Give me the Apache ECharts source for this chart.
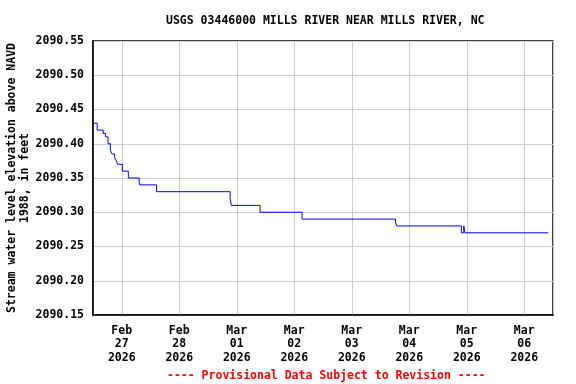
<!DOCTYPE html>
<html>
<head>
<meta charset="utf-8">
<script src="https://cdn.jsdelivr.net/npm/echarts@6/dist/echarts.min.js"></script>
<style>
html,body{margin:0;padding:0;background:#fff;}
#chart{width:576px;height:384px;}
</style>
</head>
<body>
<div id="chart"></div>
<script>
// Chart text
var chartTitle = 'USGS 03446000 MILLS RIVER NEAR MILLS RIVER, NC';
var yAxisTitle = 'Stream water level elevation above NAVD\n1988, in feet';
var footNote = '---- Provisional Data Subject to Revision ----';

// Axis ranges
var xStart = '2026-02-26T12:00';
var xEnd = '2026-03-06T12:00';
var yMin = 2090.15, yMax = 2090.55, yStep = 0.05;

// Times at which the water level changes (local time) and the new level
var changeTimes = [
  '2026-02-26T12:15', '2026-02-26T13:45', '2026-02-26T16:15', '2026-02-26T17:15',
  '2026-02-26T18:15', '2026-02-26T19:15', '2026-02-26T20:00', '2026-02-26T21:00',
  '2026-02-26T21:45', '2026-02-26T22:15', '2026-02-27T00:15', '2026-02-27T02:45',
  '2026-02-27T07:15', '2026-02-27T07:30', '2026-02-27T14:30', '2026-02-28T21:15',
  '2026-02-28T21:45', '2026-03-01T09:45', '2026-03-02T03:15', '2026-03-03T18:15',
  '2026-03-03T18:45', '2026-03-04T21:45', '2026-03-04T22:45', '2026-03-04T23:00',
  '2026-03-04T23:15', '2026-03-06T10:00'
];
var levels = [
  2090.43, 2090.42, 2090.415, 2090.41,
  2090.40, 2090.39, 2090.385, 2090.38,
  2090.375, 2090.37, 2090.36, 2090.35,
  2090.345, 2090.34, 2090.33, 2090.32,
  2090.31, 2090.30, 2090.29, 2090.285,
  2090.28, 2090.27, 2090.28, 2090.275,
  2090.27, 2090.27
];

var monthNames = ['Jan','Feb','Mar','Apr','May','Jun','Jul','Aug','Sep','Oct','Nov','Dec'];
function toDate(s) {
  var p = s.split('T'), d = p[0].split('-'), t = p[1].split(':');
  return new Date(+d[0], +d[1] - 1, +d[2], +t[0], +t[1]);
}
var seriesData = changeTimes.map(function (t, i) { return [toDate(t).getTime(), levels[i]]; });

var FONT = 'DejaVu Sans Mono';
var chart = echarts.init(document.getElementById('chart'), null, {renderer: 'canvas'});
chart.setOption({
  animation: false,
  backgroundColor: '#fff',
  title: [{
    text: chartTitle,
    left: 161, top: 10,
    textStyle: {fontFamily: FONT, fontWeight: 'bold', fontSize: 11.5, color: '#000'}
  }, {
    text: footNote,
    left: 162, top: 365,
    textStyle: {fontFamily: FONT, fontWeight: 'bold', fontSize: 11.5, color: '#ff0000'}
  }],
  grid: {
    left: 93, right: 23, top: 41, bottom: 69,
    containLabel: false,
    outerBoundsMode: 'none',
    show: true, borderColor: '#000', borderWidth: 1.5, backgroundColor: 'transparent'
  },
  xAxis: {
    type: 'time',
    min: toDate(xStart).getTime(),
    max: toDate(xEnd).getTime(),
    minInterval: 86400000,
    maxInterval: 86400000,
    axisLine: {show: true, lineStyle: {color: '#000', width: 1.5}},
    axisTick: {show: false},
    splitLine: {show: true, lineStyle: {color: '#cccccc', width: 1}},
    axisLabel: {
      fontFamily: FONT, fontWeight: 'bold', fontSize: 11.5, color: '#000',
      lineHeight: 13.5, margin: 9, showMinLabel: false, showMaxLabel: false,
      formatter: function (v) {
        var d = new Date(v);
        var dd = d.getDate();
        return monthNames[d.getMonth()] + '\n' + (dd < 10 ? '0' + dd : dd) + '\n' + d.getFullYear();
      }
    }
  },
  yAxis: {
    type: 'value',
    min: yMin, max: yMax, interval: yStep,
    name: yAxisTitle,
    nameLocation: 'middle',
    nameGap: 61,
    nameMoveOverlap: false,
    nameTextStyle: {fontFamily: FONT, fontWeight: 'bold', fontSize: 11.5, color: '#000', lineHeight: 13},
    axisLine: {show: true, lineStyle: {color: '#000', width: 1.5}},
    axisTick: {show: false},
    splitLine: {show: true, lineStyle: {color: '#cccccc', width: 1}},
    axisLabel: {
      fontFamily: FONT, fontWeight: 'bold', fontSize: 11.5, color: '#000', margin: 9,
      formatter: function (v) { return v.toFixed(2); }
    }
  },
  series: [{
    type: 'line',
    step: 'end',
    data: seriesData,
    showSymbol: false,
    lineStyle: {color: '#0000ff', width: 1},
    silent: true
  }]
});
</script>
</body>
</html>
